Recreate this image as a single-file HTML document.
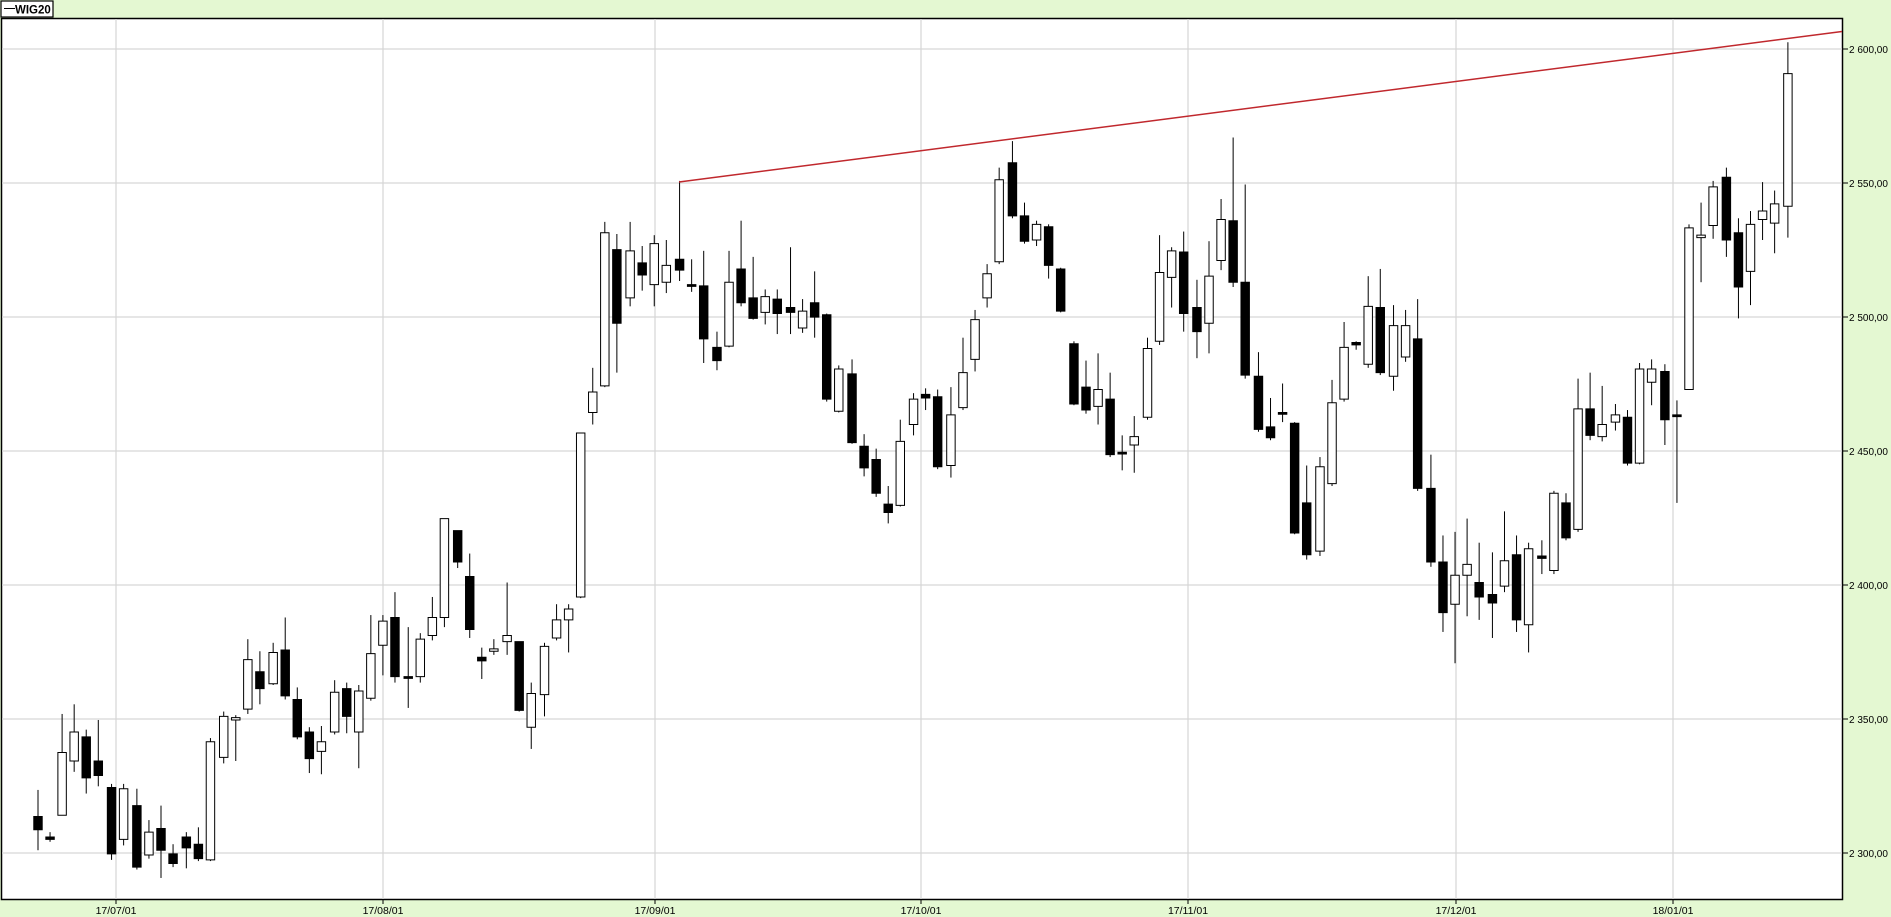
<!DOCTYPE html>
<html><head><meta charset="utf-8"><style>
html,body{margin:0;padding:0;background:#e4f8d2;}
svg{display:block;font-family:"Liberation Sans",sans-serif;}
</style></head><body>
<svg id="s" width="1891" height="917" xmlns="http://www.w3.org/2000/svg">
<rect x="0" y="0" width="1891" height="917" fill="#e4f8d2"/>
<rect x="1.5" y="18.5" width="1841" height="881" fill="#fff" stroke="#000" stroke-width="1.5"/>
<g stroke="#d6d6d6" stroke-width="1.2">
<line x1="2" x2="1842" y1="853" y2="853"/><line x1="2" x2="1842" y1="719" y2="719"/>
<line x1="2" x2="1842" y1="585" y2="585"/><line x1="2" x2="1842" y1="451" y2="451"/>
<line x1="2" x2="1842" y1="317" y2="317"/><line x1="2" x2="1842" y1="183" y2="183"/>
<line x1="2" x2="1842" y1="49" y2="49"/>
<line x1="116" x2="116" y1="19" y2="899"/><line x1="383" x2="383" y1="19" y2="899"/>
<line x1="655" x2="655" y1="19" y2="899"/><line x1="921" x2="921" y1="19" y2="899"/>
<line x1="1188" x2="1188" y1="19" y2="899"/><line x1="1456" x2="1456" y1="19" y2="899"/>
<line x1="1673" x2="1673" y1="19" y2="899"/>
</g>
<g stroke="#000" stroke-width="1">
<line x1="1843" x2="1848" y1="853" y2="853"/><line x1="1843" x2="1848" y1="719" y2="719"/>
<line x1="1843" x2="1848" y1="585" y2="585"/><line x1="1843" x2="1848" y1="451" y2="451"/>
<line x1="1843" x2="1848" y1="317" y2="317"/><line x1="1843" x2="1848" y1="183" y2="183"/>
<line x1="1843" x2="1848" y1="49" y2="49"/>
<line x1="116" x2="116" y1="900" y2="904"/><line x1="383" x2="383" y1="900" y2="904"/>
<line x1="655" x2="655" y1="900" y2="904"/><line x1="921" x2="921" y1="900" y2="904"/>
<line x1="1188" x2="1188" y1="900" y2="904"/><line x1="1456" x2="1456" y1="900" y2="904"/>
<line x1="1673" x2="1673" y1="900" y2="904"/>
</g>
<g font-size="10" fill="#000">
<text x="1849" y="857">2 300,00</text><text x="1849" y="723">2 350,00</text>
<text x="1849" y="589">2 400,00</text><text x="1849" y="455">2 450,00</text>
<text x="1849" y="321">2 500,00</text><text x="1849" y="187">2 550,00</text>
<text x="1849" y="53">2 600,00</text>
</g>
<g font-size="10.5" fill="#000" text-anchor="middle">
<text x="116" y="914">17/07/01</text><text x="383" y="914">17/08/01</text>
<text x="655" y="914">17/09/01</text><text x="921" y="914">17/10/01</text>
<text x="1188" y="914">17/11/01</text><text x="1456" y="914">17/12/01</text>
<text x="1673" y="914">18/01/01</text>
</g>
<rect x="1" y="1" width="52" height="16" fill="#fff" stroke="#000" stroke-width="1.2"/>
<line x1="4" x2="15" y1="8.5" y2="8.5" stroke="#000" stroke-width="1"/>
<text x="15" y="13.5" font-size="11.5" font-weight="bold">WIG20</text>
<g id="c" transform="scale(1.206)"></g>
<line x1="679" y1="182" x2="1842" y2="31.5" stroke="#c0282d" stroke-width="1.5"/>
</svg>
<script>
var d=[[31,677,688,655,705,1],[41,694,696,690,698,1],[51,624,676,592,676,0],[61,607,631,584,640,0],[71,611,645,605,658,1],[81,631,643,597,652,1],[92,653,708,650,713,1],[102,654,696,650,701,0],[113,668,719,654,721,1],[123,690,709,680,712,0],[133,687,705,668,728,1],[143,708,716,700,719,1],[154,694,703,690,720,1],[164,700,712,686,714,1],[174,615,713,612,714,0],[185,594,628,590,633,0],[195,595,597,593,631,0],[205,547,588,530,592,0],[215,557,571,540,584,1],[226,541,567,533,568,0],[236,539,577,512,580,1],[246,580,611,570,613,1],[256,607,629,603,641,1],[266,615,623,602,642,0],[277,574,607,564,609,0],[287,571,594,566,608,1],[297,573,607,568,637,0],[307,542,579,510,581,0],[317,515,535,510,560,0],[327,512,561,491,566,1],[338,561,562,520,587,1],[348,530,561,525,566,0],[358,512,527,495,531,0],[368,430,512,430,520,0],[379,440,466,440,471,1],[389,478,522,459,529,1],[399,545,548,537,563,1],[409,538,540,530,543,0],[420,527,532,483,543,0],[430,532,589,532,590,1],[440,575,603,566,621,0],[451,536,576,533,594,0],[461,514,529,501,531,0],[471,505,514,501,541,0],[481,359,495,359,496,0],[491,325,342,305,352,0],[501,193,320,184,321,0],[511,207,268,194,309,1],[522,208,247,184,254,0],[532,218,228,204,241,1],[542,202,236,195,254,0],[552,220,234,199,243,0],[563,215,224,150,233,1],[573,236,237,215,242,1],[583,237,281,208,301,1],[594,288,299,275,307,1],[604,234,287,208,288,0],[614,223,251,183,254,1],[624,247,264,213,265,1],[634,246,259,240,269,0],[644,248,260,240,277,1],[655,255,259,205,277,1],[665,258,272,248,276,0],[675,251,263,225,280,1],[685,261,331,260,333,1],[695,306,341,303,342,0],[706,310,367,298,368,1],[716,370,388,360,395,1],[726,381,409,372,412,1],[736,418,425,403,434,1],[746,366,419,348,420,0],[757,331,352,326,361,0],[767,327,330,322,340,1],[777,329,387,323,389,1],[788,344,386,321,396,0],[798,309,338,280,340,0],[808,265,298,257,308,0],[818,227,247,219,255,0],[828,149,217,139,219,0],[839,135,179,117,181,1],[849,179,200,168,202,1],[859,186,199,183,204,0],[869,188,220,186,231,1],[879,223,258,222,259,1],[890,285,335,283,336,1],[900,321,340,299,343,1],[910,323,337,293,352,0],[920,331,377,309,379,1],[930,375,376,361,390,1],[940,362,369,345,392,0],[951,289,346,280,348,0],[961,226,283,195,286,0],[971,208,230,205,255,0],[981,209,260,192,275,1],[992,255,275,232,297,1],[1002,229,268,200,293,0],[1012,182,216,165,224,0],[1022,183,234,114,238,1],[1032,234,311,153,314,1],[1043,312,356,292,358,1],[1053,354,363,330,365,1],[1063,342,343,318,350,1],[1073,351,442,350,443,1],[1083,417,460,386,464,1],[1094,387,457,379,461,0],[1104,334,401,315,403,0],[1114,288,331,267,333,0],[1124,284,286,283,290,1],[1134,254,302,229,305,0],[1144,255,309,223,311,1],[1155,270,312,253,324,0],[1165,270,296,257,300,0],[1175,281,405,248,407,1],[1186,405,466,377,470,1],[1196,466,508,444,524,1],[1206,477,501,441,550,0],[1216,468,477,430,511,0],[1226,483,495,450,514,1],[1237,493,500,458,529,1],[1247,465,486,424,491,0],[1257,460,514,444,524,1],[1267,455,518,450,541,0],[1278,461,463,448,476,1],[1288,409,473,407,476,0],[1298,417,446,409,448,1],[1308,339,439,314,441,0],[1318,339,361,309,365,1],[1328,352,362,320,366,0],[1339,344,350,335,357,0],[1349,346,384,340,386,1],[1359,306,384,301,385,0],[1369,306,317,298,336,0],[1380,308,348,302,369,1],[1390,344,345,332,417,1],[1400,189,323,186,323,0],[1410,195,197,168,234,0],[1420,155,187,150,198,0],[1431,147,199,139,213,1],[1441,193,238,181,264,1],[1451,186,225,175,253,0],[1461,175,182,151,199,0],[1471,169,185,158,210,0],[1482,61,171,35,197,0]];
var h='';
d.forEach(function(c){var x=c[0]+0.5;
h+='<line x1="'+x+'" x2="'+x+'" y1="'+c[3]+'" y2="'+c[4]+'" stroke="#000" stroke-width="1" vector-effect="non-scaling-stroke"/>';
var hh=Math.max(c[2]-c[1],1.5);
h+='<rect x="'+(c[0]-3)+'" y="'+c[1]+'" width="7" height="'+hh+'" fill="'+(c[5]?'#000':'#fff')+'" stroke="#000" stroke-width="1" vector-effect="non-scaling-stroke"/>';});
document.getElementById('c').innerHTML=h;
</script>
</body></html>
